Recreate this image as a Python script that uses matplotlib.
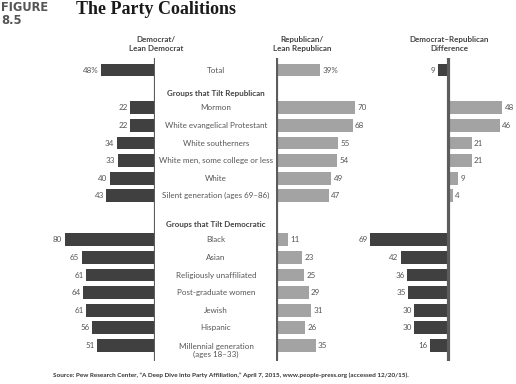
import matplotlib
matplotlib.use("Agg")
import matplotlib.pyplot as plt
from matplotlib import transforms

# rows: labels, Democrat share, Republican share, difference (Rep - Dem)
total_label = "Total"
total_dem = 48
total_rep = 39
total_diff = -9

rep_groups = ["Mormon", "White evangelical Protestant", "White southerners",
              "White men, some college or less", "White",
              "Silent generation (ages 69\u201386)"]
rep_dem = [22, 22, 34, 33, 40, 43]
rep_rep = [70, 68, 55, 54, 49, 47]
rep_diff = [48, 46, 21, 21, 9, 4]

dem_groups = ["Black", "Asian", "Religiously unaffiliated", "Post-graduate women",
              "Jewish", "Hispanic", "Millennial generation\n(ages 18\u201333)"]
dem_dem = [80, 65, 61, 64, 61, 56, 51]
dem_rep = [11, 23, 25, 29, 31, 26, 35]
dem_diff = [-69, -42, -36, -35, -30, -30, -16]

DARK = "#404040"
LIGHT = "#a3a3a3"
AXIS = "#5c5c5c"
TXT = "#555555"
FONT = "Lato"

W, H = 516, 384
fig = plt.figure(figsize=(W / 100, H / 100), dpi=100)
plt.rcParams["font.family"] = FONT

# row positions (row units)
y_total = 0
y_hdr_rep = 1.35
y_rep = [2.15 + i for i in range(len(rep_groups))]
y_hdr_dem = 8.8
y_dem = [9.65 + i for i in range(len(dem_groups))]

labels = [total_label] + rep_groups + dem_groups
ys = [y_total] + y_rep + y_dem
dem_vals = [total_dem] + rep_dem + dem_dem
rep_vals = [total_rep] + rep_rep + dem_rep
diff_vals = [total_diff] + rep_diff + dem_diff

px_per_unit = 1.13
top_px, bot_px = 58, 361
row_px = 17.6
y0_px = 70
ylim = ((bot_px - y0_px) / row_px, (top_px - y0_px) / row_px)


def make_ax(left_px, right_px, xlim):
    ax = fig.add_axes([left_px / W, (H - bot_px) / H,
                       (right_px - left_px) / W, (bot_px - top_px) / H])
    ax.set_xlim(*xlim)
    ax.set_ylim(*ylim)
    ax.axis("off")
    return ax


ax_d = make_ax(40, 155, (115 / px_per_unit, 0))
ax_r = make_ax(276, 400, (0, 124 / px_per_unit))
ax_x = make_ax(360, 516, (-88 / px_per_unit, 68 / px_per_unit))

bh = 0.73
ax_d.barh(ys, dem_vals, height=bh, color=DARK)
ax_r.barh(ys, rep_vals, height=bh, color=LIGHT)
ax_x.barh(ys, diff_vals, height=bh,
          color=[LIGHT if v > 0 else DARK for v in diff_vals])

for ax in (ax_d, ax_r, ax_x):
    ax.axvline(0, color=AXIS, lw=2.3)

fs = 5.8
for y, v in zip(ys, dem_vals):
    s = f"{v}%" if y == y_total else str(v)
    ax_d.text(v + 2, y, s, ha="right", va="center", fontsize=fs, color=TXT)
for y, v in zip(ys, rep_vals):
    s = f"{v}%" if y == y_total else str(v)
    ax_r.text(v + 2, y, s, ha="left", va="center", fontsize=fs, color=TXT)
for y, v in zip(ys, diff_vals):
    if v > 0:
        ax_x.text(v + 2, y, str(v), ha="left", va="center", fontsize=fs, color=TXT)
    else:
        ax_x.text(v - 2, y, str(abs(v)), ha="right", va="center", fontsize=fs, color=TXT)

# centre labels
tr = transforms.blended_transform_factory(fig.transFigure, ax_r.transData)
cx = 216 / W
for y, lab in zip(ys, labels):
    if "\n" in lab:
        fig.text(cx, y - 0.15, lab, ha="center", va="top", fontsize=fs,
                 color=TXT, transform=tr, linespacing=1.2)
    else:
        fig.text(cx, y, lab, ha="center", va="center", fontsize=fs,
                 color=TXT, transform=tr)
fig.text(cx, y_hdr_rep, "Groups that Tilt Republican", ha="center", va="center",
         fontsize=fs, fontweight="bold", color="#444444", transform=tr)
fig.text(cx, y_hdr_dem, "Groups that Tilt Democratic", ha="center", va="center",
         fontsize=fs, fontweight="bold", color="#444444", transform=tr)

# column headers
for x, s in [(156, "Democrat/\nLean Democrat"), (302, "Republican/\nLean Republican"),
             (449, "Democrat\u2013Republican\nDifference")]:
    fig.text(x / W, 1 - 44 / H, s, ha="center", va="center", fontsize=fs,
             fontweight="bold", color="#444444", linespacing=1.25)

fig.text(1 / W, 1 - 1 / H, "FIGURE\n8.5", ha="left", va="top", fontsize=8.3,
         fontweight="bold", family="DejaVu Sans", color="#555555", linespacing=0.95)
fig.text(76 / W, 1 - 1 / H, "The Party Coalitions", ha="left", va="top",
         fontsize=13, fontweight="bold", family="Liberation Serif", color="#1a1a1a")

fig.text(53 / W, 1 - 375 / H,
         "Source: Pew Research Center, \u201cA Deep Dive into Party Affiliation,\u201d April 7, 2015, "
         "www.people-press.org (accessed 12/20/15).",
         ha="left", va="center", fontsize=4.6, fontweight="bold", color="#333333")

fig.savefig("out.png", dpi=100)
